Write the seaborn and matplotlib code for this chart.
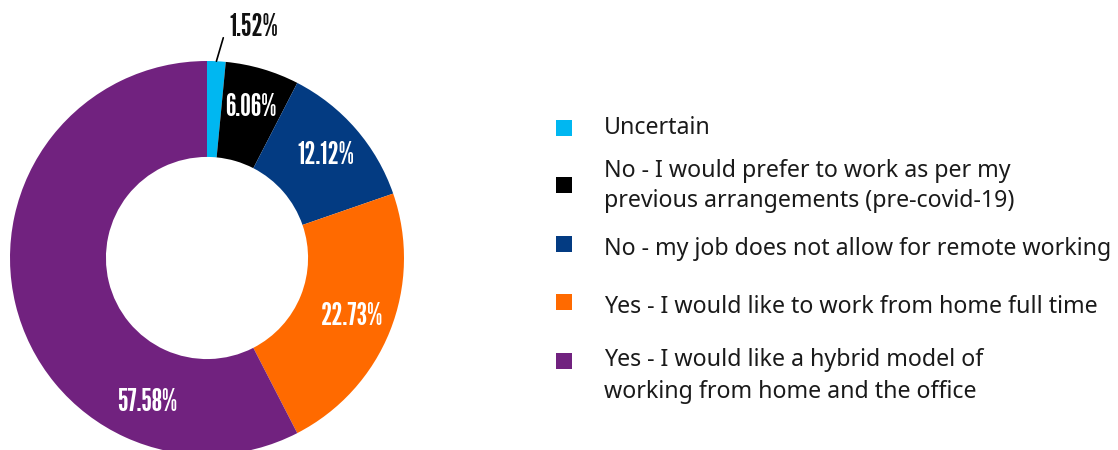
import numpy as np
import matplotlib
matplotlib.use("Agg")
import matplotlib.pyplot as plt
import seaborn as sns

categories = [
    "Uncertain",
    "No - I would prefer to work as per my\nprevious arrangements (pre-covid-19)",
    "No - my job does not allow for remote working",
    "Yes - I would like to work from home full time",
    "Yes - I would like a hybrid model of\nworking from home and the office",
]
values = [1.52, 6.06, 12.12, 22.73, 57.58]
labels = [f"{v:.2f}%" for v in values]

palette = sns.color_palette(["#00B7F1", "#000000", "#033B82", "#FF6A00", "#71227F"])

sns.set_theme(style="white")
plt.rcParams["font.family"] = ["Noto Sans", "DejaVu Sans"]

W, H = 1118, 450
fig = plt.figure(figsize=(W / 100, H / 100), dpi=100)
fig.patch.set_facecolor("white")

# donut axes: center (207, 258) px, radius 197 px
cx, cy, R = 207, 258, 197
ax = fig.add_axes([(cx - R) / W, (H - cy - R) / H, 2 * R / W, 2 * R / H])
wedges, _ = ax.pie(values, colors=palette, startangle=90, counterclock=False,
                   radius=1.0, wedgeprops=dict(width=0.487, linewidth=0),
                   frame=False)
ax.set_xlim(-1, 1)
ax.set_ylim(-1, 1)
ax.set_aspect("equal", adjustable="box")
ax.axis("off")

lab_font = dict(family=["League Gothic", "Antonio", "DejaVu Sans"], fontsize=22)
# label angle overrides (degrees) for wedges whose label is not at the mid-angle
label_angle = {4: -112.6}
for i, (w, lab, v) in enumerate(zip(wedges, labels, values)):
    ang = np.deg2rad(label_angle.get(i, (w.theta1 + w.theta2) / 2))
    if v < 3:
        p0 = (np.cos(ang), np.sin(ang))
        p1 = (np.cos(ang) + 0.035, 1.118)
        ax.plot([p0[0], p1[0]], [p0[1], p1[1]], color="black", lw=1.2, clip_on=False)
        ax.text(0.115, 1.172, lab, ha="left", va="center", color="#111111",
                clip_on=False, **lab_font)
    else:
        r = 0.795
        ax.text(r * np.cos(ang), r * np.sin(ang), lab, ha="center", va="center",
                color="white", **lab_font)

# legend drawn in a pixel-space overlay axes
lax = fig.add_axes([0, 0, 1, 1])
lax.set_xlim(0, W)
lax.set_ylim(H, 0)
lax.axis("off")
marker_y = [127.5, 185, 244, 302, 360.5]
baselines = [[134.3], [177, 207], [255], [312.7], [365.7, 397.5]]
for col, cat, my, bls in zip(palette, categories, marker_y, baselines):
    lax.scatter([563.8], [my], marker="s", s=124, color=col, linewidths=0)
    for line, by in zip(cat.split("\n"), bls):
        lax.text(604, by, line, ha="left", va="baseline", fontsize=16.7,
                 color="#1a1a1a")

fig.savefig("out.png", dpi=100, facecolor="white")
